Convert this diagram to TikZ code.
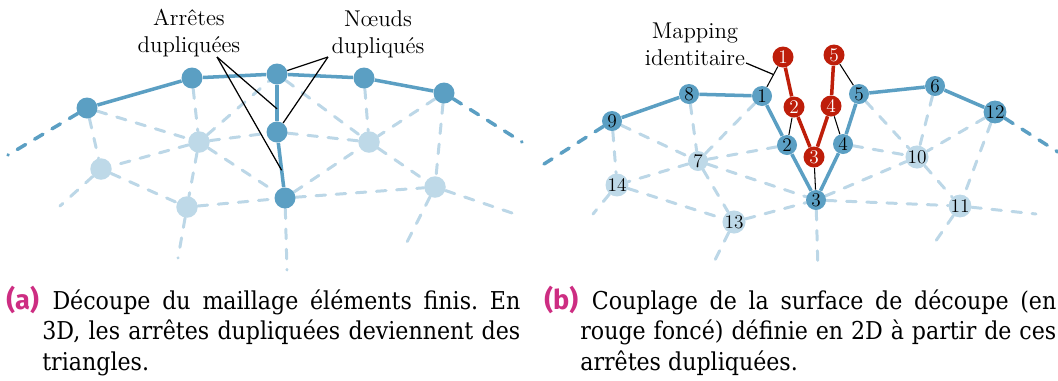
\documentclass[tikz,border=0pt]{standalone}
\usepackage{fontspec}
\newfontfamily\labsans{Fira Sans}
\IfFontExistsTF{DejaVu Serif Condensed}
  {\newfontfamily\capfont{DejaVu Serif Condensed}\def\capsize{14}}
  {\newfontfamily\capfont{Latin Modern Roman}\def\capsize{15}}
\usetikzlibrary{calc}
\definecolor{dblue}{RGB}{91,159,195}
\definecolor{lblue}{RGB}{190,217,232}
\definecolor{ldash}{RGB}{188,215,231}
\definecolor{dred}{RGB}{190,30,10}
\definecolor{capmag}{RGB}{205,45,130}
\pgfdeclarelayer{bg}
\pgfsetlayers{bg,main}
\newcommand{\caplab}[1]{{\labsans\bfseries\fontsize{15.5}{17.6}\selectfont\color{capmag}#1}}
\begin{document}
\begin{tikzpicture}[x=0.02cm,y=-0.02cm,
  dnode/.style={circle,fill=dblue,inner sep=0pt,minimum size=0.42cm},
  lnode/.style={circle,fill=lblue,inner sep=0pt,minimum size=0.43cm},
  dnum/.style={circle,fill=dblue,inner sep=0pt,minimum size=0.40cm,font=\fontsize{11}{12}\selectfont},
  lnum/.style={circle,fill=lblue,inner sep=0pt,minimum size=0.40cm,font=\fontsize{11}{12}\selectfont},
  rnum/.style={circle,fill=dred,text=white,inner sep=0pt,minimum size=0.42cm,font=\fontsize{11}{12}\selectfont},
  thickedge/.style={draw=dblue,line width=2pt},
  redge/.style={draw=dred,line width=2pt},
  dashedge/.style={draw=ldash,line width=1.7pt,line cap=round,dash pattern=on 5.5pt off 6pt},
  bdash/.style={draw=dblue,line width=2pt,line cap=round,dash pattern=on 5.5pt off 6pt},
  mapline/.style={draw=black,line width=0.6pt},
  annot/.style={draw=black,line width=0.7pt},
  lab/.style={align=center,inner sep=0pt,font=\fontsize{13}{15.4}\selectfont},
  capnode/.style={anchor=base west,inner sep=0pt}]
\useasboundingbox (0,0) rectangle (1058,380);

% ---------- left panel ----------
\node[dnode] (A1) at (87,108) {};
\node[dnode] (A2) at (192,78) {};
\node[dnode] (A3) at (277,74) {};
\node[dnode] (A4) at (364,78) {};
\node[dnode] (A5) at (444,93) {};
\node[dnode] (B) at (277,132) {};
\node[dnode] (C) at (285,198) {};
\node[lnode] (L1) at (199,142) {};
\node[lnode] (L2) at (101,169) {};
\node[lnode] (L3) at (187,207) {};
\node[lnode] (L4) at (369,142) {};
\node[lnode] (L5) at (435,187) {};
\coordinate (eL) at (8,155);
\coordinate (eR) at (522,142);
\coordinate (e1) at (60,206);
\coordinate (e2) at (178,258);
\coordinate (e3) at (287,270);
\coordinate (e4) at (512,213);
\coordinate (e5) at (405,246);

\begin{pgfonlayer}{bg}
\foreach \a/\b in {A1/L2,A1/L1,A2/L1,L1/A3,L1/B,L1/L2,L1/L3,L1/C,L2/L3,L2/e1,L3/C,L3/e2,C/e3,C/L4,C/L5,A3/L4,B/L4,A4/L4,A5/L4,A5/L5,L4/L5,L5/e4,L5/e5}
  \draw[dashedge] (\a) -- (\b);
\draw[bdash] (A1) -- (eL);
\draw[bdash] (A5) -- (eR);
\draw[thickedge] (A1) -- (A2) -- (A3) -- (A4) -- (A5);
\draw[thickedge] (A3) -- (B) -- (C);
\end{pgfonlayer}

\node[lab] (tA) at (189,33) {Arrêtes\\dupliquées};
\node[lab] (tN) at (378,34) {Nœuds\\dupliqués};
\coordinate (aT) at (217,57);
\coordinate (nT) at (328,57);
\coordinate (m1) at ($(A3)!0.6!(B)$);
\coordinate (m2) at ($(B)!0.58!(C)$);
\draw[annot] (aT) -- (m1);
\draw[annot] (aT) -- (m2);
\draw[annot] (nT) -- (A3);
\draw[annot] (nT) -- (B);

% ---------- right panel ----------
\node[dnum] (N1) at (762,96) {1};
\node[dnum] (N2) at (787,145) {2};
\node[dnum] (N3) at (816,200) {3};
\node[dnum] (N4) at (843,144) {4};
\node[dnum] (N5) at (859,94) {5};
\node[dnum] (N6) at (935,86) {6};
\node[lnum] (N7) at (698,161) {7};
\node[dnum] (N8) at (689,94) {8};
\node[dnum] (N9) at (612,121) {9};
\node[lnum] (N10) at (917,157) {10};
\node[lnum] (N11) at (960,206) {11};
\node[dnum] (N12) at (995,112) {12};
\node[lnum] (N13) at (734,222) {13};
\node[lnum] (N14) at (617,185) {14};
\node[rnum] (r1) at (783,57) {1};
\node[rnum] (r2) at (794,107) {2};
\node[rnum] (r3) at (814,157) {3};
\node[rnum] (r4) at (831,106) {4};
\node[rnum] (r5) at (834,55) {5};
\coordinate (f9) at (544,164);
\coordinate (f12) at (1058,152);
\coordinate (f14) at (593,214);
\coordinate (f13) at (712,266);
\coordinate (f3) at (818,270);
\coordinate (f11a) at (933,245);
\coordinate (f11b) at (1036,214);

\begin{pgfonlayer}{bg}
\foreach \a/\b in {N9/N14,N9/N7,N8/N7,N1/N7,N2/N7,N7/N14,N7/N13,N7/N3,N14/N13,N14/f14,N13/N3,N13/f13,N3/f3,N3/N10,N3/N11,N4/N10,N5/N10,N6/N10,N12/N10,N12/N11,N10/N11,N11/f11b,N11/f11a}
  \draw[dashedge] (\a) -- (\b);
\draw[bdash] (N9) -- (f9);
\draw[bdash] (N12) -- (f12);
\draw[thickedge] (N9) -- (N8) -- (N1) -- (N2) -- (N3) -- (N4) -- (N5) -- (N6) -- (N12);
\draw[redge] (r1) -- (r2) -- (r3) -- (r4) -- (r5);
\foreach \i in {1,...,5}
  \draw[mapline] (r\i) -- (N\i);
\end{pgfonlayer}

\node[lab] (tM) at (695,44) {Mapping\\identitaire};
\coordinate (mT) at (746,63);
\coordinate (mm) at ($(r1)!0.45!(N1)$);
\draw[annot] (mT) -- (mm);

% ---------- captions ----------
\node[capnode] (capA) at (6,309) {\parbox[t]{10.28cm}{\capfont\fontsize{\capsize}{17.6}\selectfont\frenchspacing
  \hangindent=0.72cm \hangafter=1 \noindent\caplab{(a)}\hspace{0.55em}Découpe du maillage éléments finis. En\linebreak
  3D, les arrêtes dupliquées deviennent des\linebreak
  triangles.}};
\node[capnode] (capB) at (544,309) {\parbox[t]{10.24cm}{\capfont\fontsize{\capsize}{17.6}\selectfont\frenchspacing
  \hangindent=0.72cm \hangafter=1 \noindent\caplab{(b)}\hspace{0.55em}Couplage de la surface de découpe (en\linebreak
  rouge foncé) définie en 2D à partir de ces\linebreak
  arrêtes dupliquées.}};
\end{tikzpicture}
\end{document}
